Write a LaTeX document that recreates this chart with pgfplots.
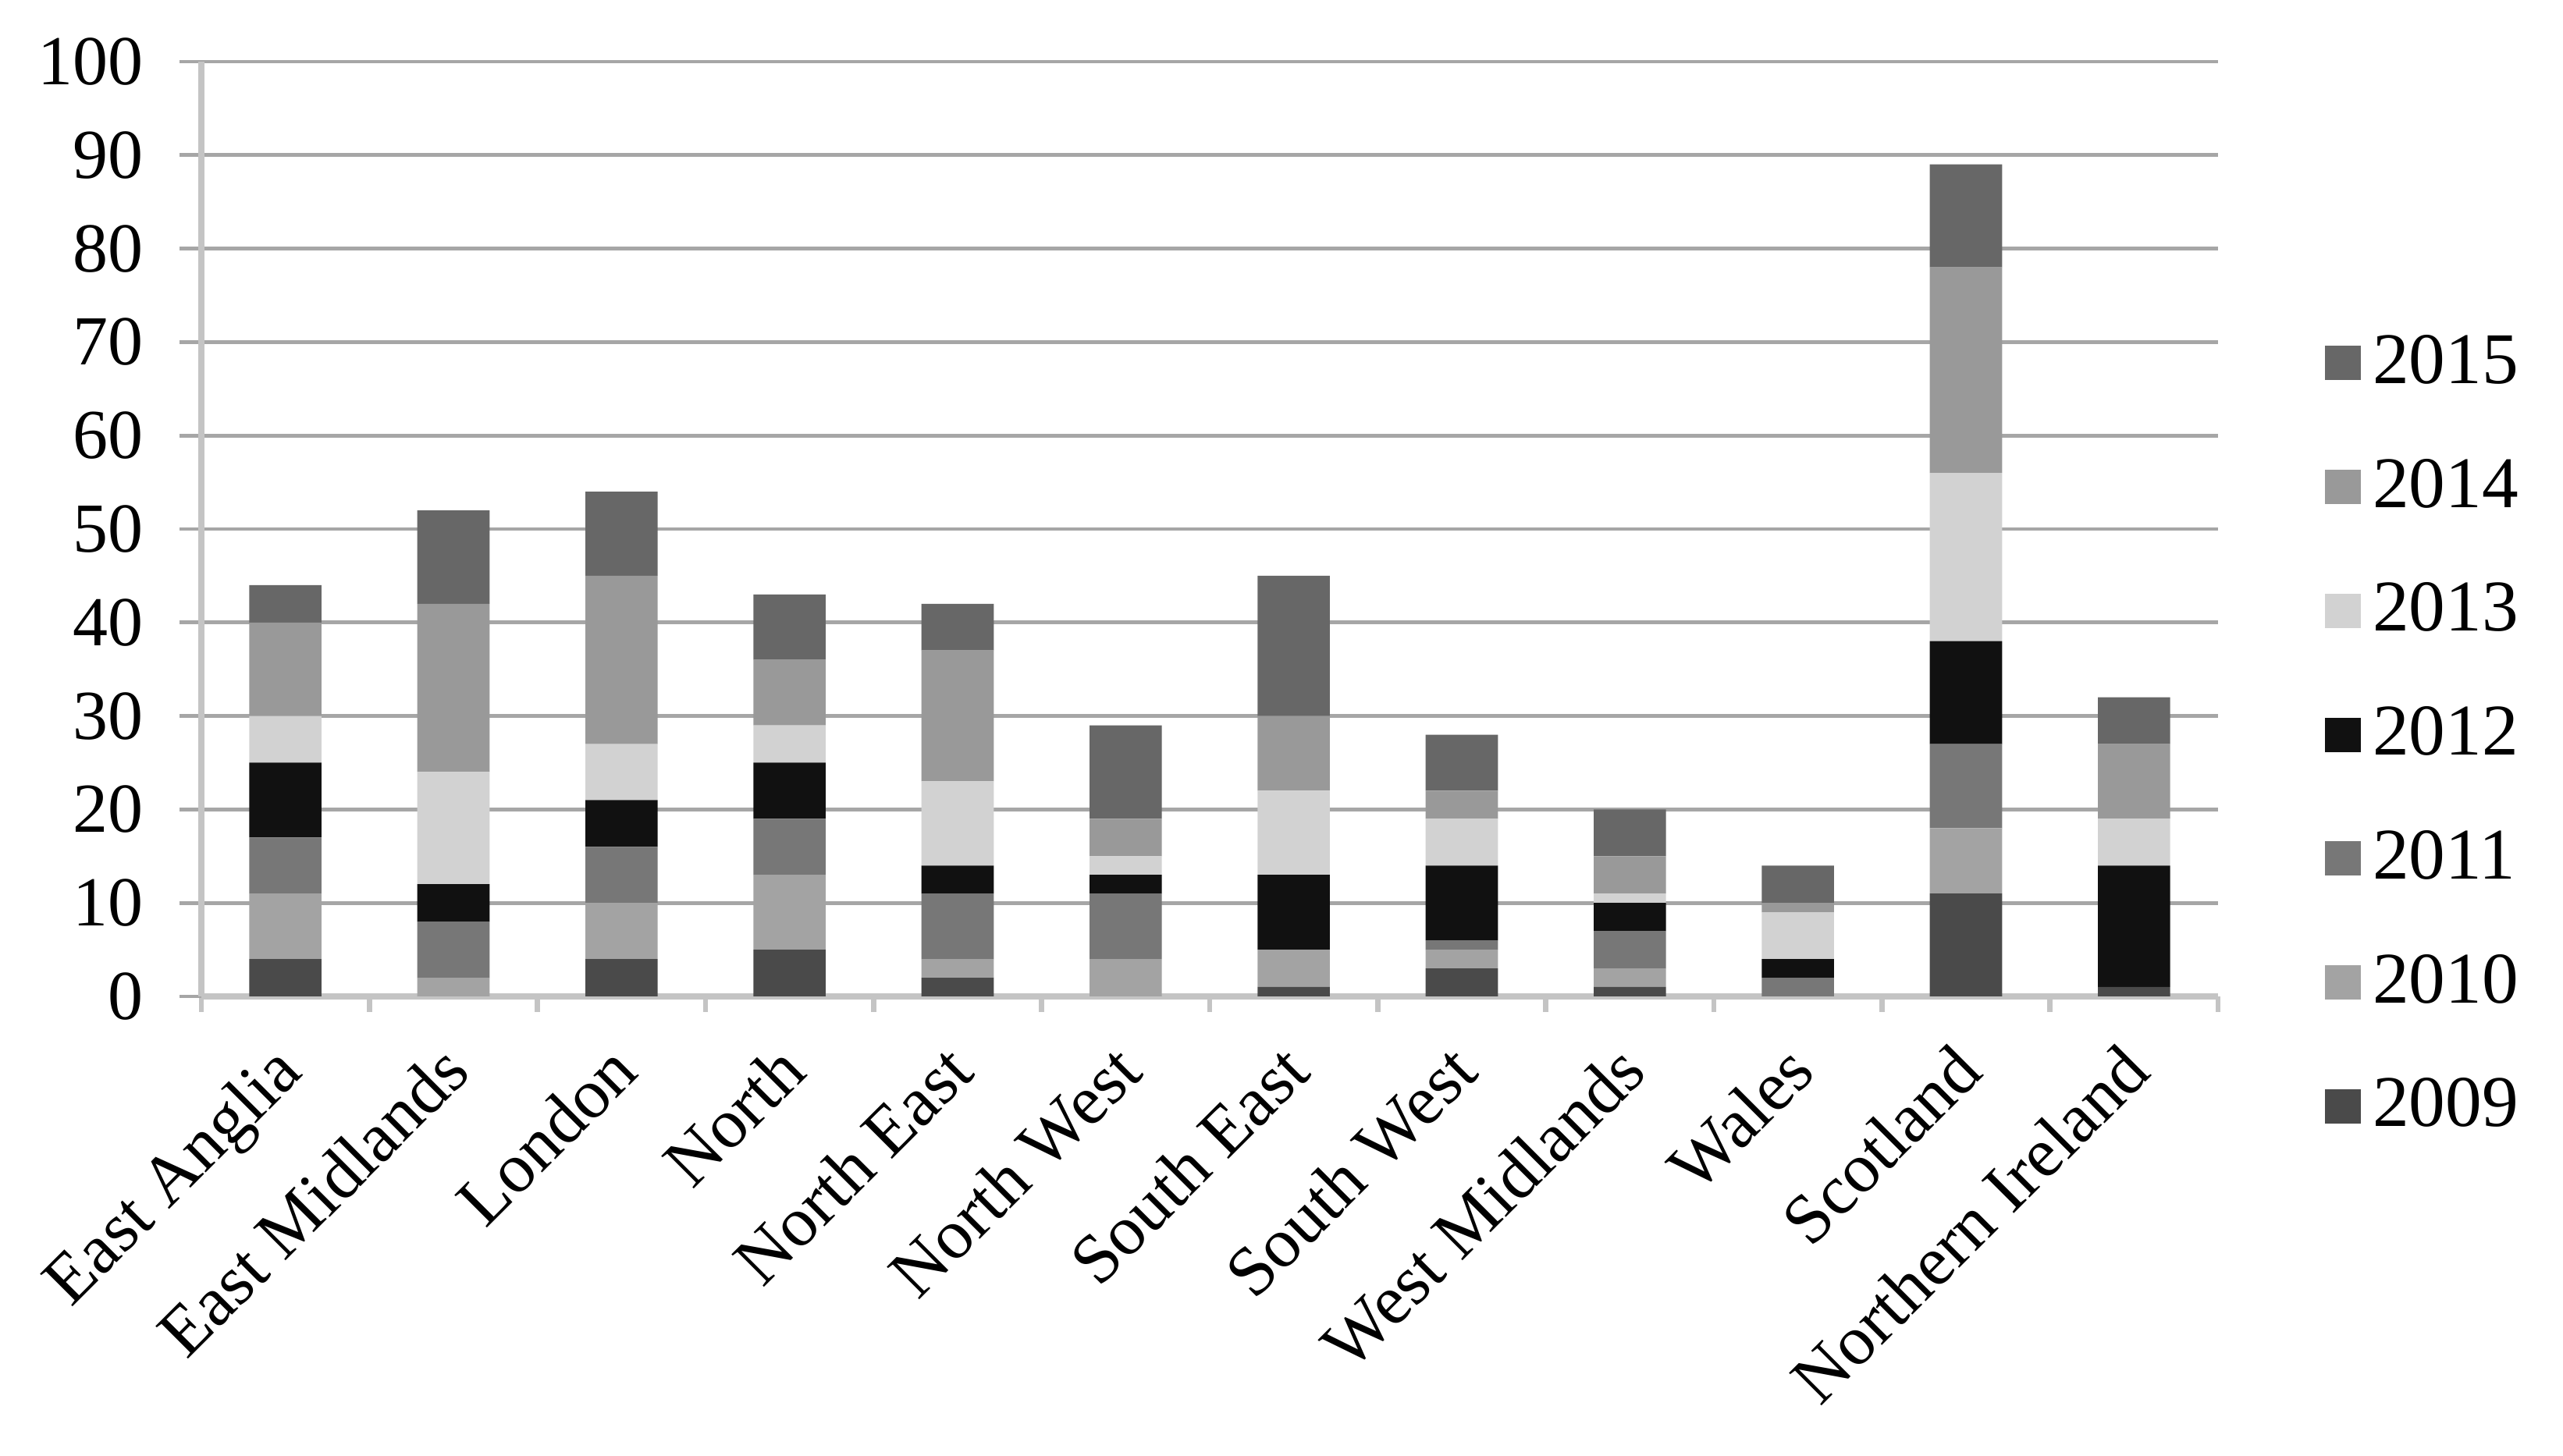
\documentclass[border=0pt]{standalone}
\usepackage{fontspec}
\setmainfont{Liberation Serif}
\usepackage{pgfplots}
\pgfplotsset{compat=1.18}
\definecolor{c2009}{HTML}{4A4A4A}
\definecolor{c2010}{HTML}{A3A3A3}
\definecolor{c2011}{HTML}{777777}
\definecolor{c2012}{HTML}{111111}
\definecolor{c2013}{HTML}{D2D2D2}
\definecolor{c2014}{HTML}{999999}
\definecolor{c2015}{HTML}{676767}
\definecolor{gridc}{HTML}{A6A6A6}
\definecolor{axisc}{HTML}{C4C4C4}
\begin{document}
\begin{tikzpicture}
\path[use as bounding box] (-38.7pt,-88.35pt) rectangle (453.9pt,191.55pt);
\begin{axis}[
  at={(0,0)}, anchor=south west,
  scale only axis, width=387.6pt, height=179.7pt,
  ybar stacked, bar width=0.43,
  xmin=-0.5, xmax=11.5, ymin=0, ymax=100,
  ytick={0,10,...,100},
  xtick={0,...,11},
  xticklabels={East Anglia,East Midlands,London,North,North East,North West,South East,South West,West Midlands,Wales,Scotland,Northern Ireland},
  minor xtick={-0.5,0.5,...,11.5},
  major x tick style={draw=none},
  minor x tick style={draw=axisc, line width=1pt},
  minor tick length=3pt,
  major tick length=4.2pt,
  y tick style={draw=gridc, line width=0.7pt},
  tick align=outside,
  axis lines*=left,
  axis line style={draw=axisc, line width=1.3pt},
  ymajorgrids,
  grid style={draw=gridc, line width=0.7pt},
  /pgf/number format/assume math mode=true,
  ticklabel style={font=\fontsize{13.5}{16}\selectfont},
  yticklabel style={xshift=-3.5pt},
  xticklabel style={rotate=45, anchor=north east, inner sep=1pt, xshift=-3.9pt, yshift=0.3pt},
  legend style={draw=none, fill=none, at={(1.0524,0.28)}, anchor=west,
    font=\fontsize{14}{16}\selectfont, row sep=9pt, inner xsep=0pt,
    nodes={inner xsep=2.2pt}},
  legend cell align=left,
  reverse legend,
  legend image code/.code={\fill[#1] (0pt,-3.3pt) rectangle (7pt,3.3pt);},
]
\addplot[fill=c2009, draw=none] coordinates {(0,4) (1,0) (2,4) (3,5) (4,2) (5,0) (6,1) (7,3) (8,1) (9,0) (10,11) (11,1)};
\addplot[fill=c2010, draw=none] coordinates {(0,7) (1,2) (2,6) (3,8) (4,2) (5,4) (6,4) (7,2) (8,2) (9,0) (10,7) (11,0)};
\addplot[fill=c2011, draw=none] coordinates {(0,6) (1,6) (2,6) (3,6) (4,7) (5,7) (6,0) (7,1) (8,4) (9,2) (10,9) (11,0)};
\addplot[fill=c2012, draw=none] coordinates {(0,8) (1,4) (2,5) (3,6) (4,3) (5,2) (6,8) (7,8) (8,3) (9,2) (10,11) (11,13)};
\addplot[fill=c2013, draw=none] coordinates {(0,5) (1,12) (2,6) (3,4) (4,9) (5,2) (6,9) (7,5) (8,1) (9,5) (10,18) (11,5)};
\addplot[fill=c2014, draw=none] coordinates {(0,10) (1,18) (2,18) (3,7) (4,14) (5,4) (6,8) (7,3) (8,4) (9,1) (10,22) (11,8)};
\addplot[fill=c2015, draw=none] coordinates {(0,4) (1,10) (2,9) (3,7) (4,5) (5,10) (6,15) (7,6) (8,5) (9,4) (10,11) (11,5)};
\legend{2009,2010,2011,2012,2013,2014,2015}
\end{axis}
\end{tikzpicture}
\end{document}
